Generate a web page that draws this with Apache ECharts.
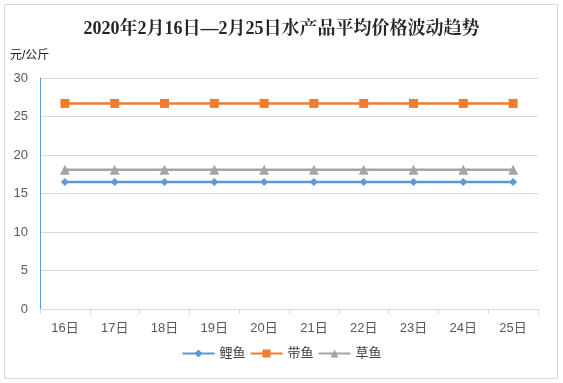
<!DOCTYPE html>
<html><head><meta charset="utf-8">
<script src="https://cdn.jsdelivr.net/npm/echarts@6/dist/echarts.min.js"></script>
<style>html,body{margin:0;padding:0;background:#fff}#c{width:563px;height:383px}</style>
</head><body><div id="c"></div>
<script>
var categories = ['16日','17日','18日','19日','20日','21日','22日','23日','24日','25日'];
var liyu = [16.5,16.5,16.5,16.5,16.5,16.5,16.5,16.5,16.5,16.5];
var daiyu = [26.7,26.7,26.7,26.7,26.7,26.7,26.7,26.7,26.7,26.7];
var caoyu = [18.1,18.1,18.1,18.1,18.1,18.1,18.1,18.1,18.1,18.1];
var seriesNames = ['鲤鱼','带鱼','草鱼'];
var titleText = '2020年2月16日—2月25日水产品平均价格波动趋势';
var yName = '元/公斤';

var chart = echarts.init(document.getElementById('c'));
var font = '"Liberation Sans","Noto Sans CJK SC",sans-serif';
function s(name, data, color, symbol, size){
  return {name:name,type:'line',data:data,symbol:symbol,symbolSize:size,
    lineStyle:{color:color,width:2.5},itemStyle:{color:color},color:color};
}
chart.setOption({
  animation:false,
  graphic:[{type:'rect',shape:{x:4.5,y:4.5,width:553,height:374},style:{fill:'none',stroke:'#d9d9d9',lineWidth:1}}],
  title:{text:titleText,left:'center',top:15,textStyle:{fontFamily:'"Liberation Serif","Noto Serif CJK SC","Noto Sans CJK SC",serif',fontSize:18,fontWeight:'bold',color:'#262626'}},
  grid:{left:40,right:25,top:78,bottom:74},
  legend:{bottom:18,left:'center',itemWidth:32,itemHeight:10,itemGap:4,
    textStyle:{fontFamily:font,fontSize:13,color:'#404040'},data:seriesNames},
  xAxis:{type:'category',data:categories,boundaryGap:true,
    axisLine:{lineStyle:{color:'#d9d9d9'}},axisTick:{show:true,length:5,lineStyle:{color:'#d9d9d9'}},
    axisLabel:{color:'#595959',fontFamily:font,fontSize:13,margin:13}},
  yAxis:{type:'value',min:0,max:30,interval:5,name:yName,nameLocation:'end',nameGap:16,
    nameTextStyle:{fontFamily:font,fontSize:12,color:'#222',align:'left',padding:[0,0,0,-30]},
    axisLine:{show:true,lineStyle:{color:'#5b9bd5'}},axisTick:{show:false},
    splitLine:{lineStyle:{color:'#d9d9d9'}},
    axisLabel:{color:'#595959',fontFamily:font,fontSize:13,margin:12}},
  series:[s(seriesNames[0],liyu,'#5b9bd5','diamond',8),s(seriesNames[1],daiyu,'#ed7d31','rect',9),s(seriesNames[2],caoyu,'#a5a5a5','triangle',10)]
});
</script></body></html>
